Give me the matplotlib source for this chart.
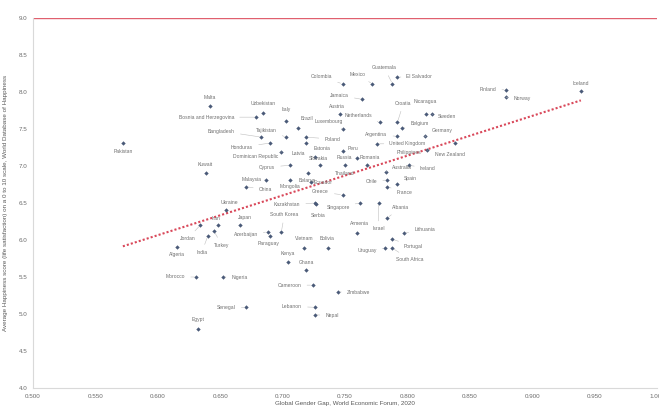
import matplotlib
matplotlib.use("Agg")
import matplotlib.pyplot as plt
import numpy as np

countries = ["Pakistan", "Malta", "Kuwait", "Colombia", "Mexico", "Guatemala", "El Salvador",
             "Jamaica", "Austria", "Nicaragua", "Sweden", "Croatia", "Netherlands", "Belgium",
             "Luxembourg", "Brazil", "Italy", "Uzbekistan", "Bosnia and Herzegovina", "Bangladesh",
             "Tajikistan", "Honduras", "Poland", "Estonia", "Argentina", "Germany", "United Kingdom",
             "Philippines", "Peru", "Dominican Republic", "Latvia", "Russia", "Romania", "Cyprus",
             "Slovakia", "Thailand", "Belarus", "Australia", "Ireland", "New Zealand", "Malaysia",
             "China", "Mongolia", "Ecuador", "Chile", "Spain", "France", "Greece", "Ukraine",
             "Kazakhstan", "Serbia", "Singapore", "Israel", "Albania", "South Korea", "Japan",
             "Armenia", "Lithuania", "Azerbaijan", "Paraguay", "Turkey", "India", "Jordan", "Iran",
             "Algeria", "Vietnam", "Bolivia", "Uruguay", "Portugal", "South Africa", "Kenya", "Ghana",
             "Nigeria", "Morocco", "Cameroon", "Zimbabwe", "Senegal", "Lebanon", "Nepal", "Egypt",
             "Finland", "Norway", "Iceland"]

gender_gap = [0.572, 0.642, 0.639, 0.748, 0.772, 0.788, 0.792,
              0.764, 0.746, 0.815, 0.820, 0.792, 0.778, 0.796,
              0.748, 0.712, 0.703, 0.684, 0.679, 0.683,
              0.703, 0.690, 0.719, 0.719, 0.792, 0.814, 0.776,
              0.816, 0.748, 0.699, 0.726, 0.760, 0.768, 0.706,
              0.730, 0.750, 0.720, 0.783, 0.801, 0.838, 0.687,
              0.671, 0.706, 0.723, 0.784, 0.792, 0.784, 0.748, 0.655,
              0.726, 0.727, 0.762, 0.777, 0.784, 0.699, 0.666,
              0.760, 0.797, 0.688, 0.690, 0.645, 0.640, 0.634, 0.648,
              0.615, 0.717, 0.736, 0.782, 0.788, 0.788, 0.704, 0.719,
              0.652, 0.631, 0.724, 0.744, 0.671, 0.726, 0.726, 0.632,
              0.879, 0.879, 0.939]

happiness = [7.31, 7.81, 6.90, 8.11, 8.11, 8.11, 8.20,
             7.90, 7.70, 7.70, 7.70, 7.59, 7.59, 7.51,
             7.50, 7.51, 7.61, 7.72, 7.66, 7.39,
             7.39, 7.31, 7.39, 7.31, 7.40, 7.40, 7.30,
             7.21, 7.20, 7.19, 7.12, 7.11, 7.01, 7.01,
             7.01, 7.01, 6.90, 6.92, 7.01, 7.31, 6.81,
             6.72, 6.81, 6.78, 6.81, 6.76, 6.72, 6.61, 6.40,
             6.50, 6.49, 6.50, 6.50, 6.30, 6.11, 6.20,
             6.09, 6.09, 6.11, 6.05, 6.12, 6.05, 6.20, 6.20,
             5.90, 5.89, 5.89, 5.89, 6.01, 5.89, 5.70, 5.59,
             5.50, 5.50, 5.39, 5.30, 5.09, 5.09, 4.99, 4.80,
             8.03, 7.93, 8.01]

target_score = 9.0

x_ticks = [0.500, 0.550, 0.600, 0.650, 0.700, 0.750, 0.800, 0.850, 0.900, 0.950, 1.000]
y_ticks = [4.0, 4.5, 5.0, 5.5, 6.0, 6.5, 7.0, 7.5, 8.0, 8.5, 9.0]

# label offsets in pixels (layout only)
label_offsets = [(0, 8), (0, -9), (-1, -9), (-21, -7), (-15, -9), (-8, -16), (22, -1),
                 (-23, -4), (-3, -8), (-1, -13), (15, 2), (6, -19), (-22, -7), (17, -5),
                 (-14, -7), (9, -10), (0, -11), (1, -9), (-50, 0), (-40, -6),
                 (-20, -7), (-28, 4), (26, 2), (16, 5), (-21, -2), (17, -6), (30, 0),
                 (-18, 2), (10, -3), (-26, 5), (-17, -4), (-13, 0), (2, -8), (-23, 2),
                 (-2, -7), (0, 8), (0, 7), (16, -4), (19, 3), (-5, 11), (-15, -1),
                 (19, 3), (0, 6), (12, 0), (-16, 1), (13, -5), (17, 6), (-22, -3), (3, -8),
                 (-28, 2), (2, 12), (-22, 4), (0, 26), (13, -10), (3, -17), (5, -8),
                 (2, -10), (21, -4), (-22, 3), (-2, 7), (8, 14), (-6, 16), (-12, 13), (-2, -7),
                 (0, 7), (0, -10), (0, -10), (-18, 2), (21, 7), (17, 11), (0, -9), (0, -8),
                 (17, 0), (-21, 0), (-23, 0), (21, 1), (-20, 0), (-23, -1), (17, 1), (0, -9),
                 (-18, 0), (16, 1), (0, -8)]

plt.rcParams['font.family'] = ['Liberation Sans', 'DejaVu Sans']

fig = plt.figure(figsize=(6.59, 4.08), dpi=100)
ax = fig.add_axes([33 / 659, 20 / 408, 624 / 659, 370 / 408])

ax.set_xlim(0.5, 1.0)
ax.set_ylim(4.0, 9.0)

# target line
ax.axhline(target_score, color='#e0606e', lw=1.0, zorder=2)

# trendline
xs = np.array(gender_gap)
ys = np.array(happiness)
k, b = np.polyfit(xs, ys, 1)
xl = np.array([xs.min(), xs.max()])
ax.plot(xl, k * xl + b, linestyle=(0, (1, 1)), color='#d9485a', lw=1.5, zorder=2)

ax.scatter(xs, ys, s=5, marker='D', color='#4a5a78', zorder=3, linewidths=0)

px2pt = 0.72
for name, x, y, (dx, dy) in zip(countries, gender_gap, happiness, label_offsets):
    dist = (dx ** 2 + dy ** 2) ** 0.5
    arrow = None
    if dist > 14:
        arrow = dict(arrowstyle='-', color='#bfbfbf', lw=0.4, shrinkA=2, shrinkB=1.5)
    ax.annotate(name, (x, y), xytext=(dx * px2pt, -dy * px2pt), textcoords='offset points',
                ha='center', va='center', fontsize=3.6, color='#707070',
                arrowprops=arrow, zorder=4)

ax.set_xticks(x_ticks)
ax.set_xticklabels([f"{v:.3f}" for v in x_ticks])
ax.set_yticks(y_ticks)
ax.set_yticklabels([f"{v:.1f}" for v in y_ticks])
ax.tick_params(axis='both', length=0, labelsize=4.5, labelcolor='#6a6a6a', pad=4)

for s in ['top', 'right']:
    ax.spines[s].set_visible(False)
for s in ['left', 'bottom']:
    ax.spines[s].set_color('#d9d9d9')
    ax.spines[s].set_linewidth(0.8)

ax.set_xlabel("Global Gender Gap, World Economic Forum, 2020", fontsize=4.5, color='#595959', labelpad=2)
ax.set_ylabel("Average Happiness score (life satisfaction) on a 0 to 10 scale, World Database of Happiness",
              fontsize=4.5, color='#595959', labelpad=8)

fig.savefig("out.png", dpi=100)
